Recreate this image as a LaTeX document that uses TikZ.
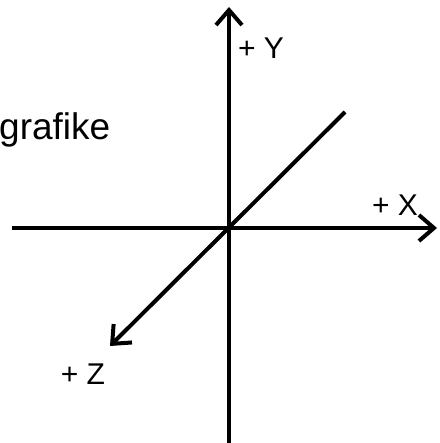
\documentclass[tikz,border=0pt]{standalone}
\usepackage{fontspec}
\setmainfont{Liberation Sans}
\usetikzlibrary{arrows.meta}
\begin{document}
\begin{tikzpicture}[x=1pt,y=1pt,
  axis/.style={line width=4pt, -{Straight Barb[length=15pt,width=26pt,line width=4pt]}},
  lab/.style={font=\fontsize{30}{30}\selectfont, inner sep=0pt},
  big/.style={font=\fontsize{37}{37}\selectfont, inner sep=0pt}]
\useasboundingbox (0,0) rectangle (439,443);
\coordinate (xl) at (12,215);
\coordinate (xr) at (437,215);
\coordinate (yb) at (229,-6);
\coordinate (yt) at (229,436);
\coordinate (zu) at (345,331);
\coordinate (zd) at (110,97);
\draw[axis] (xl) -- (xr);
\draw[axis] (yb) -- (yt);
\draw[axis] (zu) -- (zd);
\node[lab] (ly) at (261,395) {+ Y};
\node[lab] (lx) at (395,238) {+ X};
\node[lab] (lz) at (83,69) {+ Z};
\node[big, anchor=base west] (g) at (-1,303) {grafike};
\end{tikzpicture}
\end{document}
